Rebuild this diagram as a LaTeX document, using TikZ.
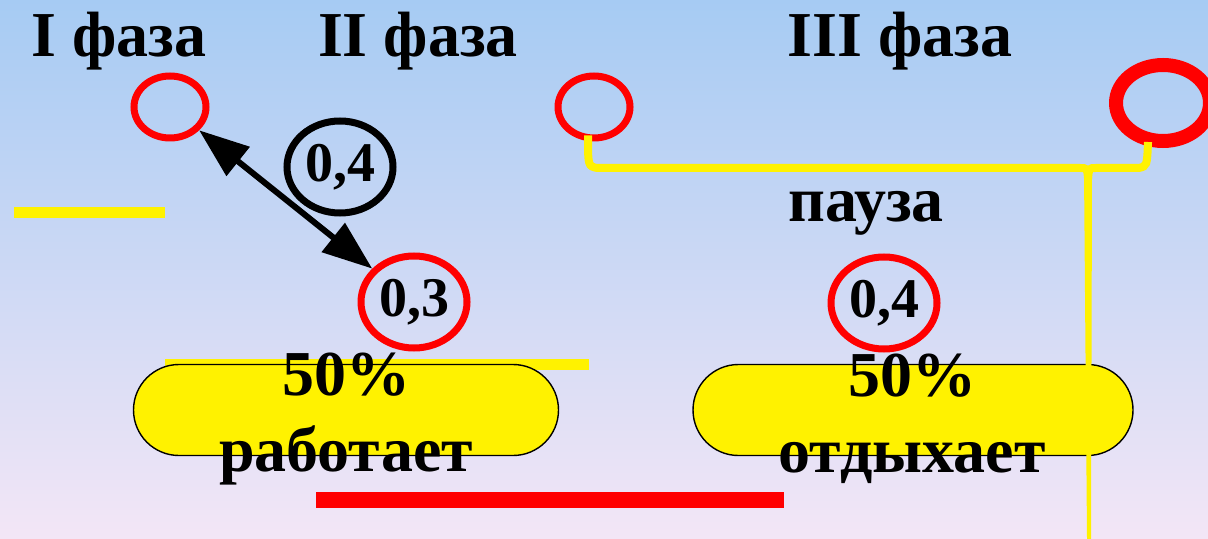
\documentclass[tikz,border=0pt]{standalone}
\usepackage{fontspec}
\setmainfont{Liberation Serif}
\usetikzlibrary{arrows.meta,shapes.geometric,shapes.misc}
\definecolor{skytop}{RGB}{166,203,243}
\definecolor{skybottom}{RGB}{243,230,246}
\tikzset{
  ring/.style={ellipse, draw=red, line width=3.5pt, inner sep=0pt,
    minimum width=36pt, minimum height=31pt},
  valring/.style={ring, font=\fontsize{28}{30}\selectfont\bfseries,
    minimum width=53pt, minimum height=46pt},
  pill/.style={rounded rectangle, draw=black, line width=0.7pt, fill=yellow,
    inner sep=0pt, minimum height=45.5pt},
  bigtext/.style={font=\fontsize{32}{38}\selectfont\bfseries, align=center},
  brace/.style={yellow, line width=4pt},
  bar/.style={line width=5.5pt},
  dbl/.style={line width=3pt, {Triangle[length=25pt,width=18pt]}-{Triangle[length=25pt,width=18pt]}}
}
\begin{document}
\begin{tikzpicture}[x=0.5pt,y=-0.5pt]
  \useasboundingbox (0,0) rectangle (1208,539);
  \fill[top color=skytop, bottom color=skybottom] (0,0) rectangle (1208,539);
  % yellow and red strips
  \draw[bar, yellow] (14,213) -- (165,213);
  \draw[bar, yellow] (165,364) -- (589,364);
  \draw[red, line width=8pt] (316,500) -- (784,500);
  % work / rest
  \node[pill, minimum width=212.5pt] (work) at (346,410) {};
  \node[pill, minimum width=220pt] (rest) at (913,410) {};
  \node[bigtext] (worktxt) at (346,419) {50\%\\работает};
  \node[bigtext] (resttxt) at (912,419) {50\%\\отдыхает};
  % phases
  \node[bigtext, anchor=base] (ph1) at (119,57) {I фаза};
  \node[bigtext, anchor=base] (ph2) at (418,57) {II фаза};
  \node[bigtext, anchor=base] (ph3) at (900,57) {III фаза};
  \node[bigtext, anchor=base] (pause) at (866,222) {пауза};
  % rings
  \node[ring] (p1) at (170,107) {};
  \node[ring] (p3a) at (594,107) {};
  \node[ring, line width=7pt, minimum width=47pt, minimum height=38pt] (p3b) at (1163,103) {};
  \node[valring, draw=black] (t04) at (340,167) {0,4};
  \node[valring] (t03) at (414,302) {0,3};
  \node[valring] (r04) at (884,303) {0,4};
  \draw[dbl] (p1) -- (t03);
  % pause bracket
  \draw[brace] ([shift={(-3pt,3pt)}]p3a.south) .. controls (588,166) .. (597,168)
    -- (1080,168) .. controls (1087,168) .. (1088,178);
  \draw[brace] ([shift={(-7.5pt,3pt)}]p3b.south) .. controls (1147,166) .. (1139,168)
    -- (1096,168) .. controls (1089,168) .. (1088,178);
  \fill[yellow] (1084,172) -- (1092,172) -- (1091,539) -- (1087,539) -- cycle;
\end{tikzpicture}
\end{document}
